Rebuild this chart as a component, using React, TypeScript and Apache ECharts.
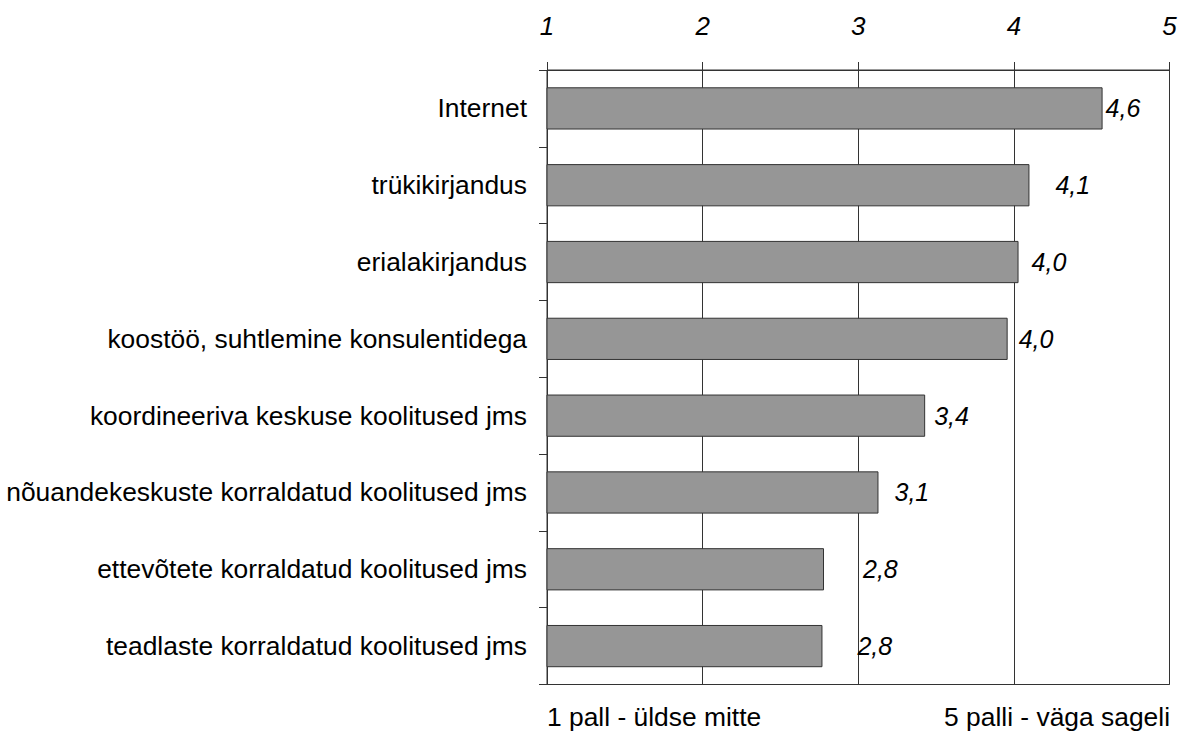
import React, { useEffect, useRef } from "react";
import * as echarts from "echarts";

const categories = [
  "Internet",
  "trükikirjandus",
  "erialakirjandus",
  "koostöö, suhtlemine konsulentidega",
  "koordineeriva keskuse koolitused jms",
  "nõuandekeskuste korraldatud koolitused jms",
  "ettevõtete korraldatud koolitused jms",
  "teadlaste korraldatud koolitused jms",
];
const values = [4.57, 4.1, 4.03, 3.96, 3.43, 3.13, 2.78, 2.77];
const labelGaps = [3, 26, 13, 11, 9, 16, 39, 35];
const axisTicks = ["1", "2", "3", "4", "5"];
const leftNote = "1 pall - üldse mitte";
const rightNote = "5 palli - väga sageli";

const FONT = "'Liberation Sans', Arial, sans-serif";

export default function App() {
  const ref = useRef<HTMLDivElement>(null);
  useEffect(() => {
    if (!ref.current) return;
    const chart = echarts.init(ref.current, undefined, { renderer: "svg" });
    chart.setOption({
      animation: false,
      backgroundColor: "#fff",
      textStyle: { fontFamily: FONT },
      grid: {
        left: 547,
        right: 10.5,
        top: 70,
        bottom: 48.5,
        containLabel: false,
        show: true,
        borderColor: "#333",
        borderWidth: 1,
      },
      xAxis: {
        type: "value",
        position: "top",
        min: 1,
        max: 5,
        interval: 1,
        axisLine: { show: true, lineStyle: { color: "#333", width: 1 } },
        axisTick: { show: true, length: 8, lineStyle: { color: "#333" } },
        splitLine: { show: true, lineStyle: { color: "#333", width: 1 } },
        axisLabel: {
          fontFamily: FONT,
          fontSize: 26,
          fontStyle: "italic",
          color: "#000",
          margin: 31,
          formatter: (v: number) => axisTicks[Math.round(v) - 1] ?? String(v),
        },
      },
      yAxis: {
        type: "category",
        inverse: true,
        data: categories,
        axisLine: { show: true, lineStyle: { color: "#333", width: 1 } },
        axisTick: { show: true, length: 8, lineStyle: { color: "#333" } },
        axisLabel: {
          fontFamily: FONT,
          fontSize: 26.4,
          color: "#000",
          margin: 20,
        },
      },
      series: [
        {
          type: "bar",
          barCategoryGap: "45%",
          data: values.map((v, i) => ({
            value: v,
            label: { offset: [labelGaps[i], 0] },
          })),
          itemStyle: { color: "#969696", borderColor: "#333", borderWidth: 1 },
          label: {
            show: true,
            position: "right",
            distance: 0,
            fontFamily: FONT,
            fontSize: 25,
            fontStyle: "italic",
            color: "#000",
            formatter: (p: any) => Number(p.value).toFixed(1).replace(".", ","),
          },
        },
      ],
      graphic: [
        {
          type: "text",
          left: 547,
          top: 704,
          style: { text: leftNote, fontFamily: FONT, fontSize: 26.4, fill: "#000" },
        },
        {
          type: "text",
          right: 10,
          top: 704,
          style: { text: rightNote, fontFamily: FONT, fontSize: 26.4, fill: "#000" },
        },
      ],
    });
    return () => chart.dispose();
  }, []);
  return (
    <div
      ref={ref}
      style={{ position: "absolute", left: 0, top: 0, width: 1180, height: 733 }}
    />
  );
}
